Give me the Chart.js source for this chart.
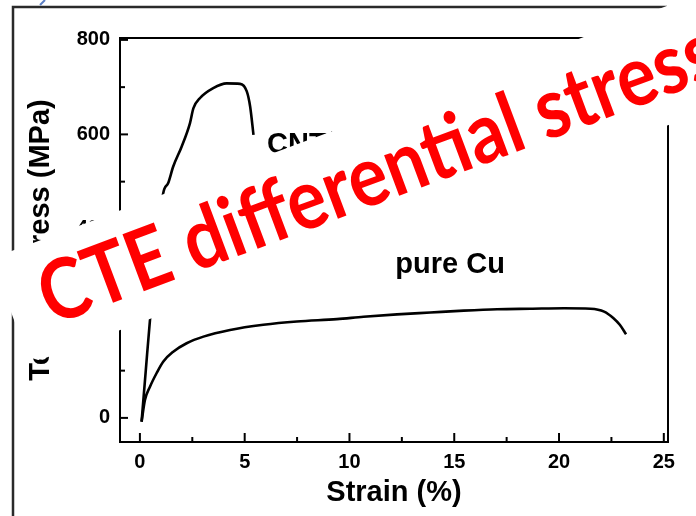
<!DOCTYPE html>
<html><head><meta charset="utf-8">
<script src="https://cdn.jsdelivr.net/npm/chart.js@4"></script>
<style>html,body{margin:0;padding:0;background:#fff;} #wrap{width:696px;height:516px;}</style>
</head><body><div id="wrap"><canvas id="c" width="696" height="516"></canvas></div>
<script>
// ---- data ----
const cuStrain = [0.08, 0.24, 0.48, 0.80, 1.11, 1.59, 2.23, 3.03, 4.30, 5.89, 7.49, 9.40, 10.67, 12.27, 13.86, 15.45, 17.05, 18.64, 20.24, 21.5, 22.15, 22.6, 22.9, 23.2];
const cuStress = [-8, 38, 66, 95, 119, 140, 158, 172, 186, 197, 204, 209, 214, 219, 223, 227, 230, 231, 232, 231, 225, 211, 197, 177];
const cntStrain = [0.08, 0.28, 0.48, 1.11, 1.35, 1.59, 1.99, 2.39, 2.55, 2.87, 3.50, 4.14, 4.78, 5.10, 5.26, 5.42];
const cntStress = [-8, 100, 207, 475, 497, 532, 574, 624, 655, 677, 698, 708, 707, 691, 659, 599];
const xTicks = [0, 2.5, 5, 7.5, 10, 12.5, 15, 17.5, 20, 22.5, 25];
const xTickLabels = ['0', '', '5', '', '10', '', '15', '', '20', '', '25'];
const yTicks = [0, 100, 200, 300, 400, 500, 600, 700, 800];
const yTickLabels = ['0', '', '200', '', '400', '', '600', '', '800'];
const seriesLabels = ['pure Cu', 'CNT/Cu'];
const labelStrain = [12.19, 6.07];
const labelStress = [307, 561];
const xTitle = 'Strain (%)';
const yTitle = 'Tensile Stress (MPa)';
const overlayText = 'CTE differential stress';

const FONT = '"Liberation Sans", Arial, Helvetica, sans-serif';

const decor = {
  id: 'decor',
  beforeDraw(chart) {
    const ctx = chart.ctx;
    ctx.save(); ctx.fillStyle = '#fff'; ctx.fillRect(0, 0, chart.width, chart.height); ctx.restore();
  },
  afterDatasetsDraw(chart) {
    const ctx = chart.ctx, a = chart.chartArea, xs = chart.scales.x, ys = chart.scales.y;
    ctx.save();
    ctx.strokeStyle = '#000'; ctx.lineWidth = 2;
    ctx.strokeRect(a.left, a.top, a.right - a.left, a.bottom - a.top);
    xTicks.forEach((v, i) => {
      const px = xs.getPixelForValue(v);
      const len = xTickLabels[i] ? 9 : 5;
      ctx.beginPath(); ctx.moveTo(px, a.bottom); ctx.lineTo(px, a.bottom - len); ctx.stroke();
    });
    yTicks.forEach((v, i) => {
      const py = ys.getPixelForValue(v);
      const len = yTickLabels[i] ? 8 : 5;
      ctx.beginPath(); ctx.moveTo(a.left, py); ctx.lineTo(a.left + len, py); ctx.stroke();
    });
    ctx.fillStyle = '#000';
    ctx.font = 'bold 29px ' + FONT;
    ctx.textAlign = 'left'; ctx.textBaseline = 'alphabetic';
    seriesLabels.forEach((t, i) => {
      ctx.fillText(t, xs.getPixelForValue(labelStrain[i]), ys.getPixelForValue(labelStress[i]));
    });
    ctx.restore();
  },
  afterDraw(chart) {
    const ctx = chart.ctx;
    ctx.save();
    // outer picture frame
    ctx.strokeStyle = '#2a2a2a'; ctx.lineWidth = 2.5;
    ctx.beginPath(); ctx.moveTo(13, 516); ctx.lineTo(13, 7); ctx.lineTo(667, 7); ctx.stroke();
    ctx.strokeStyle = '#5b7fc4'; ctx.lineWidth = 2;
    ctx.beginPath(); ctx.moveTo(40, 5); ctx.lineTo(45, 0); ctx.stroke();
    // white band with red overlay text
    ctx.translate(50, 322);
    ctx.rotate(-20.5 * Math.PI / 180);
    ctx.fillStyle = '#fff';
    ctx.beginPath();
    ctx.roundRect(-33, -80, 900, 112, 14);
    ctx.fill();
    ctx.fillStyle = '#ff0000';
    ctx.font = 'bold 84px Lato, "Open Sans", sans-serif';
    ctx.textAlign = 'left'; ctx.textBaseline = 'alphabetic';
    const w = ctx.measureText(overlayText).width;
    ctx.scale(718 / w, 1);
    ctx.fillText(overlayText, 0, 4);
    ctx.restore();
  }
};

const tickFont = { family: FONT, size: 20, weight: 'bold' };
const titleFont = { family: FONT, size: 29, weight: 'bold' };

new Chart(document.getElementById('c'), {
  type: 'scatter',
  data: {
    datasets: [
      { label: 'pure Cu', data: cuStrain.map((x, i) => ({ x, y: cuStress[i] })), showLine: true, pointRadius: 0, borderColor: '#000', borderWidth: 2.6, cubicInterpolationMode: 'monotone' },
      { label: 'CNT/Cu', data: cntStrain.map((x, i) => ({ x, y: cntStress[i] })), showLine: true, pointRadius: 0, borderColor: '#000', borderWidth: 2.6, cubicInterpolationMode: 'monotone' }
    ]
  },
  options: {
    responsive: false, animation: false, devicePixelRatio: 1,
    layout: { padding: { left: 0, top: 38, right: 28, bottom: 0 } },
    plugins: { legend: { display: false }, tooltip: { enabled: false } },
    scales: {
      x: {
        type: 'linear', min: -0.95, max: 25.2,
        afterBuildTicks: s => { s.ticks = xTicks.map(v => ({ value: v })); },
        afterFit: s => { s.height = 74; },
        grid: { display: false, drawTicks: false }, border: { display: false },
        ticks: { autoSkip: false, maxRotation: 0, padding: 8, color: '#000', font: tickFont,
          callback: v => xTickLabels[xTicks.indexOf(v)] },
        title: { display: true, text: xTitle, color: '#000', font: titleFont, padding: { top: 0, bottom: 6 } }
      },
      y: {
        type: 'linear', min: -51, max: 804,
        afterBuildTicks: s => { s.ticks = yTicks.map(v => ({ value: v })); },
        afterFit: s => { s.width = 120; },
        grid: { display: false, drawTicks: false }, border: { display: false },
        ticks: { autoSkip: false, padding: 10, color: '#000', font: tickFont,
          callback: v => yTickLabels[yTicks.indexOf(v)] },
        title: { display: true, text: yTitle, color: '#000', font: titleFont, padding: { top: 24, bottom: 0 } }
      }
    }
  },
  plugins: [decor]
});
</script>
</body></html>
